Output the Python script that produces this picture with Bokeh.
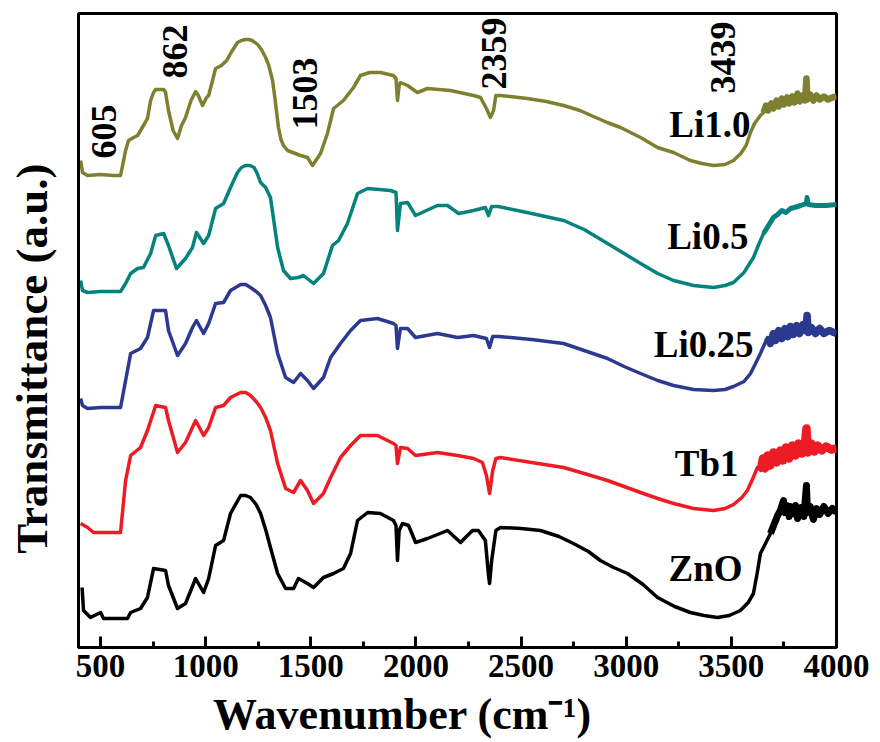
import math
from bokeh.plotting import figure
from bokeh.models import Range1d, FixedTicker, Label
from bokeh.embed import file_html
from bokeh.resources import INLINE

# FTIR spectra (wavenumber in cm^-1, transmittance in a.u., curves stacked)
wn_li10 = [405, 414, 438, 500, 560, 595, 619, 633, 657, 676, 704, 723, 738, 752, 762, 800, 809, 823, 845, 866,
           885, 904, 930, 952, 965, 985, 1004, 1014, 1047, 1075, 1100, 1118, 1151, 1170, 1189, 1205, 1220, 1235,
           1247, 1265, 1285, 1300, 1318, 1330, 1346, 1358, 1370, 1389, 1451, 1484, 1508, 1546, 1579, 1608, 1655,
           1703, 1736, 1780, 1831, 1893, 1905, 1912, 1920, 1926, 1960, 2007, 2055, 2164, 2274, 2307, 2335, 2354,
           2369, 2380, 2402, 2530, 2620, 2702, 2780, 2844, 2910, 2973, 3068, 3149, 3225, 3305, 3360, 3415, 3470,
           3510, 3545, 3570, 3591, 3610, 3638, 3653, 3665, 3675, 3690, 3700, 3715, 3725, 3740, 3750, 3765,
           3775, 3790, 3800, 3815, 3825, 3840, 3850, 3857, 3862, 3875, 3890, 3905, 3920, 3940, 3960, 3980, 4000]
t_li10 = [487, 475, 472, 473, 472, 472, 497, 507, 510, 512, 522, 529, 547, 555, 558, 558, 555, 537, 517, 509,
          522, 530, 547, 556, 552, 542, 550, 552, 579, 582, 587, 594, 605, 607, 608, 608, 607, 605,
          603, 598, 590, 582, 567, 548, 520, 508, 502, 497, 492, 490, 482, 494, 514, 539, 547,
          560, 572, 575, 575, 572, 569, 547, 562, 565, 562, 555, 559, 557, 552, 550, 539, 530,
          537, 552, 552, 549, 546, 542, 537, 531, 525, 520, 510, 500, 495, 487, 484, 482, 483,
          487, 494, 502, 515, 524, 532, 535, 542, 537, 544, 539, 547, 541, 549, 543, 550,
          544, 551, 545, 554, 546, 552, 547, 569, 548, 553, 547, 552, 548, 551, 548, 550, 551]

wn_li05 = [405, 414, 438, 500, 595, 619, 643, 676, 704, 738, 762, 800, 823, 861, 904, 937, 956, 990, 1014, 1047,
           1085, 1118, 1151, 1170, 1189, 1210, 1230, 1245, 1261, 1285, 1308, 1325, 1342, 1370, 1403, 1441, 1465,
           1513, 1560, 1603, 1632, 1674, 1722, 1770, 1879, 1905, 1912, 1926, 1960, 1998, 2102, 2150, 2203, 2274,
           2330, 2345, 2360, 2392, 2550, 2702, 2800, 2911, 2990, 3068, 3150, 3225, 3320, 3415, 3470, 3510, 3560,
           3605, 3630, 3653, 3700, 3720, 3740, 3760, 3781, 3800, 3830, 3857, 3860, 3865, 3900, 3950, 4000]
t_li05 = [367, 357, 355, 356, 356, 364, 374, 379, 380, 394, 412, 414, 402, 379, 389, 400, 415, 404, 412, 439,
          444, 460, 475, 480, 482, 482, 480, 474, 465, 460, 450, 425, 400, 377, 369, 370, 372,
          364, 374, 402, 407, 424, 454, 459, 457, 455, 417, 444, 445, 432, 442, 442, 434, 437,
          440, 432, 441, 441, 434, 427, 418, 404, 394, 384, 374, 367, 362, 360, 362, 365, 375,
          390, 403, 414, 430, 433, 437, 435, 439, 440, 442, 444, 450, 443, 442, 442, 443]

wn_li025 = [405, 414, 438, 500, 595, 619, 643, 690, 723, 752, 809, 823, 866, 904, 937, 956, 990, 1014, 1047, 1085,
            1118, 1166, 1190, 1213, 1240, 1261, 1285, 1308, 1342, 1380, 1418, 1451, 1484, 1513, 1560, 1594, 1641,
            1689, 1736, 1817, 1893, 1905, 1912, 1926, 1960, 1998, 2102, 2198, 2274, 2335, 2350, 2365, 2392, 2550,
            2702, 2800, 2911, 2990, 3068, 3150, 3225, 3320, 3415, 3470, 3510, 3560, 3591, 3615, 3638, 3672, 3685,
            3700, 3710, 3725, 3740, 3755, 3770, 3781, 3795, 3810, 3825, 3840, 3855, 3860, 3866, 3880, 3900, 3920,
            3940, 3965, 4000]
t_li025 = [249, 242, 239, 240, 240, 267, 294, 299, 310, 337, 337, 317, 292, 304, 320, 327, 314, 324, 344, 345,
           357, 363, 363, 360, 356, 352, 342, 330, 294, 270, 265, 274, 267, 259, 270, 290, 304,
           317, 327, 329, 324, 322, 299, 319, 319, 310, 314, 310, 312, 309, 300, 311, 311, 308,
           304, 297, 289, 281, 274, 267, 262, 258, 257, 258, 261, 266, 274, 284, 294, 310, 304,
           314, 307, 317, 309, 319, 311, 321, 313, 322, 314, 323, 317, 332, 315, 320, 314, 319,
           314, 317, 314]

wn_tb1 = [405, 438, 467, 500, 595, 619, 643, 690, 723, 762, 809, 823, 866, 904, 952, 990, 1014, 1047, 1085, 1118,
          1166, 1190, 1213, 1240, 1261, 1285, 1308, 1342, 1380, 1418, 1451, 1484, 1513, 1560, 1594, 1641, 1689,
          1736, 1817, 1893, 1905, 1912, 1926, 1960, 1998, 2102, 2198, 2274, 2316, 2335, 2350, 2365, 2380, 2402,
          2550, 2702, 2800, 2911, 2990, 3068, 3150, 3225, 3320, 3415, 3470, 3510, 3550, 3576, 3600, 3624, 3640,
          3650, 3660, 3672, 3685, 3700, 3715, 3733, 3745, 3760, 3775, 3790, 3805, 3820, 3835, 3850, 3857, 3864,
          3880, 3895, 3910, 3930, 3950, 3975, 4000]
t_tb1 = [124, 120, 115, 115, 115, 167, 192, 200, 217, 242, 240, 227, 195, 205, 227, 212, 220, 240, 242, 250,
         255, 255, 252, 246, 240, 230, 217, 184, 159, 155, 167, 157, 144, 154, 170, 190, 202,
         212, 212, 204, 202, 184, 200, 199, 192, 195, 192, 189, 185, 172, 154, 177, 189, 190,
         185, 180, 174, 167, 161, 155, 149, 144, 139, 137, 139, 143, 150, 157, 168, 180, 177,
         189, 179, 192, 182, 195, 185, 197, 187, 200, 189, 202, 192, 204, 194, 203, 219, 195,
         204, 196, 202, 197, 201, 198, 199]

wn_zno = [412, 419, 452, 500, 514, 600, 628, 643, 690, 723, 752, 809, 823, 866, 904, 952, 990, 1014, 1047, 1085,
          1118, 1166, 1190, 1213, 1240, 1261, 1285, 1308, 1342, 1380, 1418, 1441, 1484, 1513, 1560, 1608, 1655,
          1689, 1722, 1770, 1831, 1893, 1905, 1912, 1920, 1936, 1965, 1998, 2055, 2150, 2212, 2240, 2269, 2297,
          2330, 2345, 2350, 2360, 2380, 2402, 2500, 2592, 2680, 2749, 2820, 2877, 2940, 3006, 3080, 3149, 3230,
          3305, 3370, 3434, 3490, 3543, 3580, 3605, 3625, 3638, 3686, 3720, 3733, 3748, 3755, 3765, 3775, 3781,
          3795, 3805, 3815, 3830, 3845, 3857, 3862, 3875, 3890, 3905, 3920, 3940, 3960, 3980, 4000]
t_zno = [60, 37, 30, 35, 29, 29, 29, 35, 39, 50, 79, 77, 62, 39, 44, 69, 55, 69, 102, 107,
         134, 152, 152, 150, 143, 134, 118, 100, 74, 59, 59, 69, 64, 60, 70, 74, 79,
         94, 127, 135, 134, 127, 122, 87, 117, 124, 122, 105, 109, 117, 105, 111, 117, 117,
         107, 72, 64, 87, 117, 120, 119, 117, 111, 104, 96, 87, 80, 74, 63, 50, 41,
         35, 32, 30, 32, 37, 45, 54, 77, 94, 114, 132, 137, 147, 135, 142, 131, 141,
         134, 142, 129, 140, 131, 162, 135, 141, 128, 139, 133, 141, 134, 139, 135]

# (name, wavenumbers, transmittance, colour, width of the noisy high-wavenumber tail)
series = [
    ("Li1.0", wn_li10, t_li10, "#7f7f30", 6.5),
    ("Li0.5", wn_li05, t_li05, "#04827e", 5.0),
    ("Li0.25", wn_li025, t_li025, "#2b3990", 7.5),
    ("Tb1", wn_tb1, t_tb1, "#ed1c24", 8.5),
    ("ZnO", wn_zno, t_zno, "#000000", 7.0),
]

# sample name labels: (text, wavenumber at right edge, transmittance)
sample_labels = [("Li1.0", 3591, 523), ("Li0.5", 3581, 411), ("Li0.25", 3605, 303),
                 ("Tb1", 3534, 184), ("ZnO", 3553, 79)]
# band assignments written vertically above Li1.0
band_labels = [("605", 514, 516), ("862", 852, 596), ("1503", 1470, 554),
               ("2359", 2369, 594), ("3439", 3458, 590)]

FONT = "Liberation Serif"
NBSP = "\u00a0"

p = figure(width=880, height=742, output_backend="svg", toolbar_location=None,
           x_range=Range1d(395, 4000), y_range=Range1d(0, 634),
           min_border_left=78, min_border_right=44, min_border_top=13, min_border_bottom=95)
p.background_fill_color = "white"
p.border_fill_color = "white"
p.outline_line_color = "black"
p.outline_line_width = 3
p.xgrid.visible = False
p.ygrid.visible = False

for name, xs, ys, color, tail_w in series:
    p.line(xs, ys, line_color=color, line_width=3.5, line_join="round")
    # the detector noise above ~3640 cm^-1 shows up as a thicker band
    tail = [(x, y) for x, y in zip(xs, ys) if x >= 3640]
    p.line([t[0] for t in tail], [t[1] for t in tail], line_color=color,
           line_width=tail_w, line_join="round")

# x axis: inward ticks, bold serif labels
xa = p.xaxis[0]
xa.ticker = FixedTicker(ticks=[500, 1000, 1500, 2000, 2500, 3000, 3500, 4000],
                        minor_ticks=[750, 1250, 1750, 2250, 2750, 3250, 3750])
xa.major_tick_in = 11
xa.major_tick_out = 0
xa.minor_tick_in = 6
xa.minor_tick_out = 0
xa.major_tick_line_width = 3
xa.minor_tick_line_width = 3
xa.axis_line_width = 3
xa.major_label_standoff = 7
xa.major_label_text_font = FONT
xa.major_label_text_font_style = "bold"
xa.major_label_text_font_size = "33px"
xa.major_label_text_color = "black"
# trailing no-break spaces move the title a little left of the frame centre
xa.axis_label = "Wavenumber (cm\u207b\u00b9)" + NBSP * 10
xa.axis_label_text_font = FONT
xa.axis_label_text_font_style = "bold"
xa.axis_label_text_font_size = "44px"
xa.axis_label_text_color = "black"
xa.axis_label_standoff = 10

# y axis: frame line and title only
ya = p.yaxis[0]
ya.ticker = FixedTicker(ticks=[])
ya.major_tick_line_color = None
ya.minor_tick_line_color = None
ya.major_label_text_font_size = "0px"
ya.axis_line_width = 3
ya.axis_label = "Transmittance (a.u.)" + NBSP * 5
ya.axis_label_text_font = FONT
ya.axis_label_text_font_style = "bold"
ya.axis_label_text_font_size = "45px"
ya.axis_label_text_color = "black"
ya.axis_label_standoff = 22

for text, x, y in sample_labels:
    p.add_layout(Label(x=x, y=y, text=text, text_font=FONT, text_font_style="bold",
                       text_font_size="37px", text_align="right", text_baseline="middle",
                       text_color="black"))

for text, x, y in band_labels:
    p.add_layout(Label(x=x, y=y, text=text, text_font=FONT, text_font_style="bold",
                       text_font_size="36px", text_align="center", text_baseline="middle",
                       angle=math.pi / 2, text_color="black"))

open("out.html", "w").write(file_html(p, INLINE))
